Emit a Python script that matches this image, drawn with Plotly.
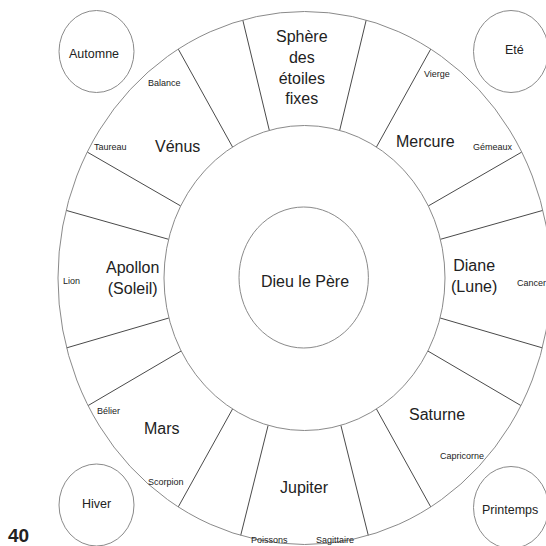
import numpy as np
import plotly.graph_objects as go

# ---- content ----
planets = ["Sphère<br>des<br>étoiles<br>fixes", "Mercure", "Diane<br>(Lune)", "Saturne",
           "Jupiter", "Mars", "Apollon<br>(Soleil)", "Vénus"]
signs = ["Balance", "Taureau", "Vierge", "Gémeaux", "Lion", "Cancer",
         "Bélier", "Scorpion", "Poissons", "Sagittaire", "Capricorne"]
seasons = ["Automne", "Eté", "Hiver", "Printemps"]
centre_label = "Dieu le Père"
page_number = "40"
# sector boundary angles (degrees clockwise from top), one half of the ring, mirrored
half_boundaries = [14.5, 30.8, 61.8, 75.3, 105.2, 118.6, 149.2, 165.0]

# ---- layout geometry (pixels) ----
CX, CY = 304.5, 278.0
OUT_A, OUT_B = 246.5, 266.5
IN_A, IN_B = 140.5, 152.5
GOD_A, GOD_B = 64.7, 70.5
planet_pos = [(302, 67), (425, 141), (474, 276), (437, 414),
              (304.5, 487), (162, 428), (132, 278), (177.5, 146)]
sign_pos = [(164.5, 82.5), (110.5, 147), (436.7, 74), (492.5, 147), (71.5, 281), (531, 283),
            (108, 411), (165.5, 482), (269.7, 540), (335, 540), (461.7, 456.3)]
season_pos = [(96.5, 51.5), (511, 51.5), (96.5, 505), (511, 507.5)]
season_text_pos = [(94, 54), (514, 50), (96, 504), (510, 510)]
SEASON_A, SEASON_B = 37.5, 41.0

FONT = "Liberation Sans, Arial, Helvetica, sans-serif"
TXT = "#222222"
ELL = "#8a8a8a"
RAD = "#4a4a4a"

angles = np.array(half_boundaries + [360 - a for a in half_boundaries])
th = np.radians(angles)
xs, ys = [], []
for t in th:
    xs += [CX + IN_A * np.sin(t), CX + OUT_A * np.sin(t), None]
    ys += [CY - IN_B * np.cos(t), CY - OUT_B * np.cos(t), None]

fig = go.Figure()
fig.add_trace(go.Scatter(x=xs, y=ys, mode="lines", line=dict(color=RAD, width=1),
                         hoverinfo="skip", showlegend=False))

shapes = []
def ell(cx, cy, a, b, col=ELL, w=1):
    shapes.append(dict(type="circle", xref="x", yref="y", x0=cx - a, x1=cx + a,
                       y0=cy - b, y1=cy + b, line=dict(color=col, width=w),
                       fillcolor="rgba(0,0,0,0)", layer="above"))

ell(CX, CY, OUT_A, OUT_B)
ell(CX, CY, IN_A, IN_B)
ell(303.7, 277.5, GOD_A, GOD_B)
for (sx, sy) in season_pos:
    ell(sx, sy, SEASON_A, SEASON_B)

ann = []
def txt(x, y, s, size, bold=False):
    ann.append(dict(x=x, y=y, xref="x", yref="y", text=("<b>%s</b>" % s) if bold else s,
                    showarrow=False, xanchor="center", yanchor="middle",
                    font=dict(family=FONT, size=size, color=TXT)))

for s, (x, y) in zip(planets, planet_pos):
    txt(x, y, s, 16)
for s, (x, y) in zip(signs, sign_pos):
    txt(x, y, s, 9)
for s, (x, y) in zip(seasons, season_text_pos):
    txt(x, y, s, 12.5)
txt(305, 281.5, centre_label, 16)
txt(18.5, 535, page_number, 19, bold=True)

fig.update_layout(
    width=546, height=546, margin=dict(l=0, r=0, t=0, b=0),
    paper_bgcolor="white", plot_bgcolor="white",
    xaxis=dict(range=[0, 546], visible=False, fixedrange=True),
    yaxis=dict(range=[546, 0], visible=False, fixedrange=True),
    shapes=shapes, annotations=ann, showlegend=False,
)
fig.write_html("out.html", config={"displayModeBar": False},
               post_script="document.body.style.margin='0px';")
